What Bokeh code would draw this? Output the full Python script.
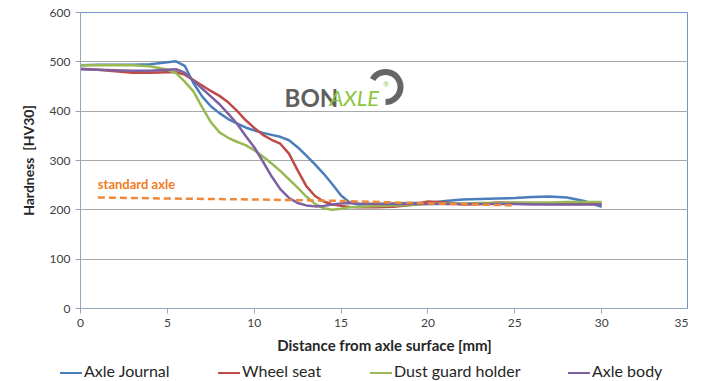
import math
from bokeh.plotting import figure
from bokeh.layouts import column
from bokeh.models import Label, FixedTicker, Range1d, Div
from bokeh.embed import file_html
from bokeh.resources import INLINE

# ---- data ----
dist = [0, 1, 2, 3, 4, 5, 5.5, 6, 6.5, 7, 7.5, 8, 8.5, 9, 9.5, 10, 10.5, 11, 11.5, 12,
        12.5, 13, 13.5, 14, 14.5, 15, 15.5, 16, 17, 18, 19, 20, 21, 22, 23, 24, 25, 26,
        27, 28, 29, 30]
axle_journal = [493, 494, 494, 494, 495, 499, 501, 492, 457, 430, 410, 396, 384, 375, 367, 361,
                356, 352, 348, 341, 327, 310, 292, 273, 252, 229, 215, 211, 212, 213, 214, 214,
                218, 221, 222, 223, 224, 226, 227, 225, 218, 206]
wheel_seat = [486, 484, 481, 478, 478, 479, 479, 474, 463, 452, 441, 431, 418, 401, 382, 366,
              352, 342, 334, 314, 280, 248, 228, 217, 211, 208, 206, 205, 205, 206, 210, 217,
              215, 211, 212, 215, 214, 213, 212, 212, 212, 212]
dust_guard = [493, 493, 493, 493, 491, 484, 477, 460, 440, 408, 378, 357, 346, 338, 331, 321,
              308, 294, 279, 262, 245, 227, 212, 203, 200, 202, 205, 206, 208, 209, 210, 212,
              213, 213, 214, 214, 215, 215, 215, 216, 216, 216]
axle_body = [485, 484, 483, 482, 482, 484, 485, 478, 462, 446, 430, 414, 395, 375, 350, 327,
             298, 268, 242, 224, 214, 209, 207, 208, 211, 213, 214, 213, 212, 212, 212, 212,
             212, 212, 212, 212, 212, 211, 211, 211, 211, 211]
std_x = [1, 5, 10, 15, 20, 25]
std_y = [225, 223, 221, 218, 213, 209]

series_names = ["Axle Journal", "Wheel seat", "Dust guard holder", "Axle body"]
series_colors = ["#4a7ebb", "#be4b48", "#98b954", "#7d60a0"]

x_ticks = [0, 5, 10, 15, 20, 25, 30, 35]
y_ticks = [0, 100, 200, 300, 400, 500, 600]

FONT = "Lato"

p = figure(frame_width=608, frame_height=296, output_backend="svg", toolbar_location=None,
           x_range=Range1d(0, 35), y_range=Range1d(0, 600),
           min_border_left=80, min_border_right=0, min_border_top=12, min_border_bottom=50)
p.background_fill_color = "white"
p.outline_line_color = "#6f95cc"
p.outline_line_width = 1

p.xgrid.visible = False
p.ygrid.grid_line_color = "#a8a8a8"
p.ygrid.grid_line_width = 1

p.xaxis.ticker = FixedTicker(ticks=x_ticks)
p.yaxis.ticker = FixedTicker(ticks=y_ticks)
for ax in (p.xaxis[0], p.yaxis[0]):
    ax.axis_line_color = "#95a6bf"
    ax.major_tick_line_color = "#95a6bf"
    ax.major_tick_in = 0
    ax.major_tick_out = 5
    ax.minor_tick_line_color = None
    ax.major_label_text_font = FONT
    ax.major_label_text_font_size = "12px"
    ax.major_label_text_color = "#404040"
    ax.axis_label_text_font = FONT
    ax.axis_label_text_font_style = "bold"
    ax.axis_label_text_color = "#262626"

p.xaxis.axis_label = "Distance from axle surface [mm]"
p.xaxis.axis_label_text_font_size = "15px"
p.xaxis.axis_label_standoff = 6
p.xaxis.major_label_standoff = 5
p.yaxis.axis_label = "Hardness \u00a0[HV30]"
p.yaxis.axis_label_text_font_size = "14px"
p.yaxis.axis_label_standoff = 10
p.yaxis.major_label_standoff = 5

lw = 2.5
for vals, col in zip([axle_journal, wheel_seat, dust_guard, axle_body], series_colors):
    p.line(dist, vals, line_color=col, line_width=lw, line_join="round")
p.line(std_x, std_y, line_color="#f0883a", line_width=2.5, line_dash="7 4")

p.add_layout(Label(x=std_x[0], y=std_y[0] + 12, text="standard axle", text_font=FONT,
                   text_font_style="bold", text_font_size="13px", text_color="#f07d1e"))

# logo
p.add_layout(Label(x=11.75, y=428, text="BON", text_font=FONT, text_font_style="bold",
                   text_font_size="24px", text_color="#5f5f5f", text_baseline="middle"))
p.add_layout(Label(x=14.33, y=428, text="AXLE", text_font=FONT, text_font_style="italic",
                   text_font_size="22px", text_color="#8cc63e", text_baseline="middle"))
p.add_layout(Label(x=17.6, y=455, text="®", text_font=FONT, text_align="center",
                   text_baseline="middle",
                   text_font_size="7px", text_color="#8cc63e"))
p.annular_wedge(x=[17.56], y=[449], inner_radius=12, outer_radius=18,
                inner_radius_units="screen", outer_radius_units="screen",
                start_angle=-math.pi / 2, end_angle=math.radians(150),
                fill_color="#666666", line_color=None)

# legend strip below the chart
lefts = [60, 218, 370, 568]
parts = []
for name, col, left in zip(series_names, series_colors, lefts):
    parts.append(
        f'<span style="position:absolute;left:{left}px;top:4px;line-height:18px;'
        f'white-space:nowrap">'
        f'<span style="display:inline-block;width:22px;height:0;border-top:2.5px solid {col};'
        f'vertical-align:middle;margin-right:2px"></span>{name}</span>')
legend_html = ('<div style="position:relative;width:688px;height:23px;font-family:Lato;'
               'font-size:16px;color:#262626">' + "".join(parts) + '</div>')
lg = Div(text=legend_html, width=688, height=23, margin=0)

open("out.html", "w").write(file_html(column(p, lg, spacing=0), INLINE))
